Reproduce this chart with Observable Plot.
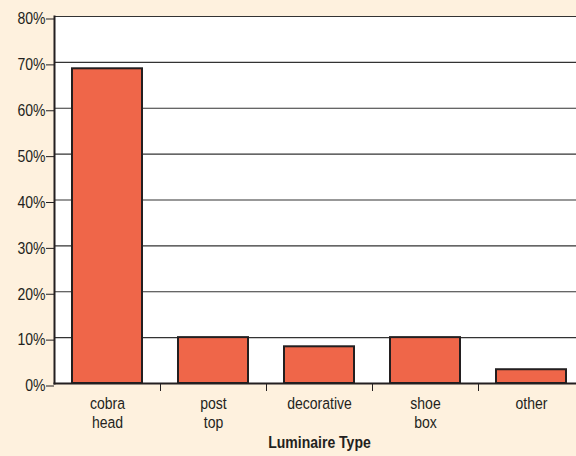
<!DOCTYPE html>
<html>
<head>
<meta charset="utf-8">
<script src="https://cdn.jsdelivr.net/npm/d3@7"></script>
<script src="https://cdn.jsdelivr.net/npm/@observablehq/plot@0.6"></script>
<style>
  html, body { margin: 0; padding: 0; background: #FEF1DE; }
</style>
</head>
<body>
<div id="chart"></div>
<script>
const categories = ["cobra\nhead", "post\ntop", "decorative", "shoe\nbox", "other"];
const shares = [0.686, 0.10, 0.08, 0.10, 0.03];
const yTicks = [0, 0.1, 0.2, 0.3, 0.4, 0.5, 0.6, 0.7, 0.8];
const axisTitle = "Luminaire Type";

const data = categories.map((c, i) => ({category: c, share: shares[i]}));

const W = 576, H = 456;
const xRange = [54, 584];
const step = (xRange[1] - xRange[0]) / categories.length;
const FONT = "'Liberation Sans', Arial, Helvetica, sans-serif";
const CONDENSE = 0.85;

const chart = Plot.plot({
  width: W,
  height: H,
  marginLeft: 54,
  marginRight: 0,
  marginTop: 16,
  marginBottom: 73,
  style: {
    background: "#FEF1DE",
    fontFamily: FONT,
    fontSize: "16.5px",
    color: "#231F20"
  },
  x: {domain: categories, range: xRange, paddingInner: 0.34, paddingOuter: 0.17, label: null},
  y: {domain: [0, 0.8], label: null},
  marks: [
    Plot.frame({fill: "white", stroke: null}),
    Plot.ruleY(yTicks.slice(1), {stroke: "#333", strokeWidth: 1.2}),
    Plot.barY(data, {x: "category", y: "share", fill: "#EF6649", stroke: "#231F20", strokeWidth: 2}),
    Plot.frame({anchor: "left", stroke: "#231F20", strokeWidth: 2}),
    Plot.frame({anchor: "bottom", stroke: "#231F20", strokeWidth: 2}),
    Plot.axisY({ticks: yTicks, tickFormat: d3.format(".0%"), tickSize: 8, tickPadding: 1, fontSize: 16.5, dy: 2.5, label: null}),
    Plot.axisX({tickSize: 0, tickPadding: 12, fontSize: 16.5, lineHeight: 1.15, label: null}),
    Plot.axisX(categories.slice(0, 4), {tickSize: 8, tickFormat: () => "", dx: step / 2, label: null, stroke: "#231F20"}),
    Plot.text([axisTitle], {frameAnchor: "bottom", dy: 64, dx: 4, fontWeight: "bold", fontSize: 16.5, fill: "#231F20"})
  ]
});

// condense text horizontally (reference uses a narrow Helvetica)
chart.querySelectorAll("text").forEach(t => {
  let tr = t.getAttribute("transform");
  if (!tr) {
    const x = +(t.getAttribute("x") || 0), y = +(t.getAttribute("y") || 0);
    t.removeAttribute("x"); t.removeAttribute("y");
    tr = `translate(${x},${y})`;
  }
  t.setAttribute("transform", `${tr} scale(${CONDENSE},1)`);
});

document.getElementById("chart").appendChild(chart);
</script>
</body>
</html>
